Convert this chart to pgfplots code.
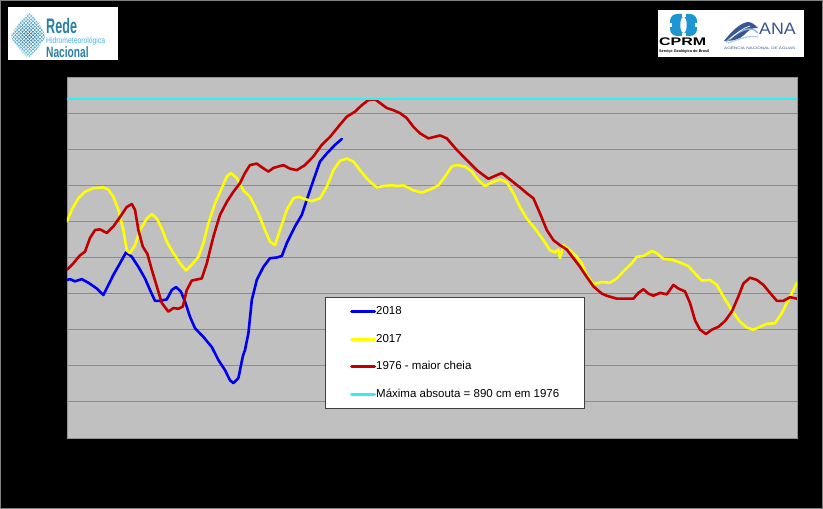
\documentclass[border=0pt]{standalone}
\usepackage{pgfplots}
\pgfplotsset{compat=1.18}
\usepackage{fontspec}
\usepackage{graphicx}
\setmainfont{Liberation Sans}
\newfontfamily\arial{Liberation Sans}
\definecolor{plotbg}{HTML}{C0C0C0}
\definecolor{gridc}{HTML}{8C8C8C}
\definecolor{c18}{HTML}{0000F0}
\definecolor{c17}{HTML}{FFFF00}
\definecolor{c76}{HTML}{C00000}
\definecolor{cmax}{HTML}{33F0F0}
\definecolor{redeblue}{HTML}{2A7FA6}
\definecolor{redecyan}{HTML}{45B5E0}
\definecolor{cprmblue}{HTML}{1E96D2}
\definecolor{anablue}{HTML}{3A5590}
\definecolor{analight}{HTML}{8FB8E0}

\pgfplotstableread{
x y
0 639
1.5 640
4 637
7.4 640
10.7 635
14.9 627
18.2 618
20.7 632
23.2 646
26.5 662
29.5 677
32.4 671
35.7 657
39 641
41.5 625
44 610
46.5 610
49.9 612
52.4 625
54.5 629
56.9 623
59 609
61.5 588
64 572
68.2 560
72.4 546
75.7 528
79 514
81.5 500
83.2 496
85.7 503
87.9 533
89 542
90.7 565
92.4 611
94.9 639
98.2 657
101.5 669
104.9 670
107.4 672
109.9 690
114 713
117.4 729
119.9 750
123.2 777
126.5 803
129.9 814
134 826
137.4 834
}\tabA

\pgfplotstableread{
x y
0 720
2.4 736
5.7 752
9 761
13.2 766
18.2 767
20.7 764
23.2 754
25.7 736
28.2 708
29.9 680
31.5 676
34 687
36.5 708
39.9 724
42.4 730
44.9 724
47.4 710
49.9 692
53.2 676
56.5 662
59.5 652
62.4 660
65.7 671
68.2 690
70.7 717
74 745
77.4 766
79.9 782
81.9 787
84.9 780
88.2 763
91.5 754
95.7 731
99 708
101.5 692
104 687
106.5 708
109.9 736
113.2 752
115.7 754
119 751
122.4 748
126.5 752
129.9 768
133.2 791
136.5 804
139.9 807
143.2 803
146.5 791
150.7 777
154.9 767
158.2 769
162.4 770
165.7 769
168.2 770
173.2 763
177.4 760
181.5 764
185.7 770
189 782
192.4 796
194.9 798
199 796
202.4 789
205.7 777
209 769
212.4 774
216.5 778
219.9 774
223.2 759
226.5 740
229.9 724
234 710
238.2 694
241.5 680
244 677
245.7 681
246.5 669
248.2 687
251.5 680
254.9 671
257.4 662
259.9 646
263.2 633
267.4 636
271.5 635
274.9 641
279 653
282.4 662
284.9 671
288.2 672
292.4 679
294.9 676
298.2 668
302.4 667
306.5 663
310.7 658
314 648
317.4 638
321.5 639
324.9 632
328.2 616
332.4 597
336.5 581
339.9 573
343.2 570
346.5 574
349.9 578
354 579
357.4 593
360.7 611
363.2 625
365 635
}\tabB

\pgfplotstableread{
x y
0 653
3.2 662
6.5 673
9 678
11.5 697
14 708
16.5 709
19.9 704
23.2 713
26.5 726
29.9 740
32.4 744
34 736
35.7 708
37.9 685
40.2 675
42.4 653
44.9 630
47.4 607
50.7 595
53.2 600
55.7 599
57.9 602
59.9 625
62.4 638
65.7 640
67.4 641
69.9 662
73.2 699
76.5 729
79.9 747
83.2 761
86.5 773
89 787
91.5 798
94.9 800
97.4 795
100.7 789
103.2 794
108.2 798
111.5 793
114.9 791
119 798
123.2 810
127.4 826
131.5 837
136.5 854
139.9 865
144 872
147.4 881
150.7 888
154 889
156.5 884
159.9 877
163.2 874
166.5 870
169.9 863
173.2 851
176.5 842
180.7 835
186.5 839
189.9 835
194.9 819
199.9 805
204.9 791
210.7 779
214 783
217.4 787
221.5 778
226.5 767
229.9 759
233.2 752
236.5 731
239.9 708
243.2 694
246.5 687
249.9 681
253.2 669
256.5 657
259.9 643
263.2 630
267.4 620
269.9 617
274.9 613
279 613
283.2 613
285.7 621
288.2 626
290.7 620
293.2 617
296.5 621
299.9 619
303.2 632
305.7 627
309 623
311.5 607
314 583
316.5 570
319.5 564
322.4 570
325.7 574
329 582
332.4 595
335.7 616
338.2 634
341.5 642
344.9 639
348.2 632
351.5 621
354.9 610
358.2 610
361.5 615
365 613
}\tabC

\begin{document}
\begin{tikzpicture}[x=1pt,y=1pt]
\path[use as bounding box] (0,0) rectangle (823,509);
\fill[black] (0,0) rectangle (823,509);
\draw[gray,line width=0.8pt] (0.4,0.4) rectangle (822.6,508.6);

% left logo
\fill[white] (8,449) rectangle (118,502);
\begin{scope}
\clip (29,498) .. controls (35,489) and (44,481) .. (45,472) .. controls (40,462) and (33,455) .. (28,451) .. controls (22,457) and (14,465) .. (11,473) .. controls (15,482) and (24,490) .. (29,498) -- cycle;
\shade[inner color=redeblue!90!black, outer color=redecyan!70] (28,474) circle (22);
\foreach \i in {-60,-56.5,...,60} {
  \draw[white,line width=0.45pt] (\i,449) -- ++(60,60);
  \draw[white,line width=0.45pt] (\i+60,449) -- ++(-60,60);
}
\end{scope}
\node[anchor=base west,inner sep=0pt,text=redeblue] at (46,475.5) {\scalebox{0.6}[1]{\fontsize{21}{21}\selectfont\bfseries Rede}};
\node[anchor=base west,inner sep=0pt,text=redecyan] at (46,465) {\scalebox{0.8}[1]{\fontsize{8.5}{8.5}\selectfont Hidrometeorológica}};
\node[anchor=base west,inner sep=0pt,text=redeblue] at (46,451.5) {\scalebox{0.68}[1]{\fontsize{15}{15}\selectfont\bfseries Nacional}};

% right logo
\fill[white] (658,452) rectangle (804,499);
\fill[cprmblue,rounded corners=7pt] (670,473) rectangle (697,495);
\fill[white] (683.5,484) ellipse (3.2 and 8);
\fill[white] (681.5,492) rectangle (685.5,496);
\fill[white] (681.5,472) rectangle (685.5,476);
\fill[white] (669,482) rectangle (672,486);
\fill[white] (695,482) rectangle (698,486);
\node[anchor=base west,inner sep=0pt] at (659,463) {\scalebox{1.45}[1]{\fontsize{11}{11}\selectfont\bfseries CPRM}};
\node[anchor=base west,inner sep=0pt] at (659,456.5) {\resizebox{50pt}{2.8pt}{\bfseries Serviço Geológico do Brasil}};
\begin{scope}
\fill[anablue] (724,468) .. controls (732,478) and (740,486) .. (748,487) .. controls (752,487) and (755,484) .. (758,481) .. controls (752,482) and (748,478) .. (744,474) .. controls (740,470) and (734,468) .. (724,468) -- cycle;
\draw[analight,line width=1.4pt] (726,467) .. controls (734,474) and (742,480) .. (750,480) .. controls (754,480) and (756,478) .. (758,476);
\draw[white,line width=0.7pt] (730,470) .. controls (737,476) and (743,481) .. (750,483);
\draw[analight!70!white,line width=1.2pt] (728,466) .. controls (740,470) and (748,474) .. (758,472);
\end{scope}
\node[anchor=base west,inner sep=0pt,text=anablue] at (759,474) {\scalebox{1.08}[1]{\fontsize{16.5}{16.5}\selectfont ANA}};
\node[anchor=base west,inner sep=0pt,text=anablue] at (724,459) {\resizebox{71pt}{3pt}{AGÊNCIA NACIONAL DE ÁGUAS}};

\begin{axis}[
  at={(67pt,71pt)}, anchor=south west,
  scale only axis, width=730pt, height=361pt,
  xmin=0, xmax=365, ymin=420, ymax=920,
  xtick=\empty,
  ytick={470,520,...,870},
  yticklabels={},
  major tick length=0pt,
  ymajorgrids,
  grid style={draw=gridc, line width=0.8pt},
  axis background/.style={fill=plotbg},
  axis line style={draw=gray!85!white, line width=0.6pt},
  legend cell align=left,
  legend image code/.code={\draw[#1, line width=3pt] (0pt,0pt) -- (23pt,0pt);},
  every legend image post/.style={line width=3pt},
  legend style={at={(axis description cs:0.3534,0.3906)}, anchor=north west,
    draw=black!75, fill=white,
    font=\arial\fontsize{11.5}{13}\selectfont,
    inner xsep=25pt, inner ysep=9pt, row sep=16.5pt,
    nodes={inner sep=0pt, text height=8.5pt, text depth=2.5pt},
    /tikz/every even column/.append style={column sep=1pt}},
  every axis plot/.append style={line width=2.6pt, line join=round, line cap=round},
]
\addplot[c18, no marks] table[x=x,y=y] {\tabA};
\addlegendentry{2018}
\addplot[c17, no marks] table[x=x,y=y] {\tabB};
\addlegendentry{2017}
\addplot[c76, no marks] table[x=x,y=y] {\tabC};
\addlegendentry{1976 - maior cheia}
\addplot[cmax, no marks, line width=2.2pt] coordinates {(0,890) (365,890)};
\addlegendentry{Máxima absouta = 890 cm em 1976}
\end{axis}
\end{tikzpicture}
\end{document}
